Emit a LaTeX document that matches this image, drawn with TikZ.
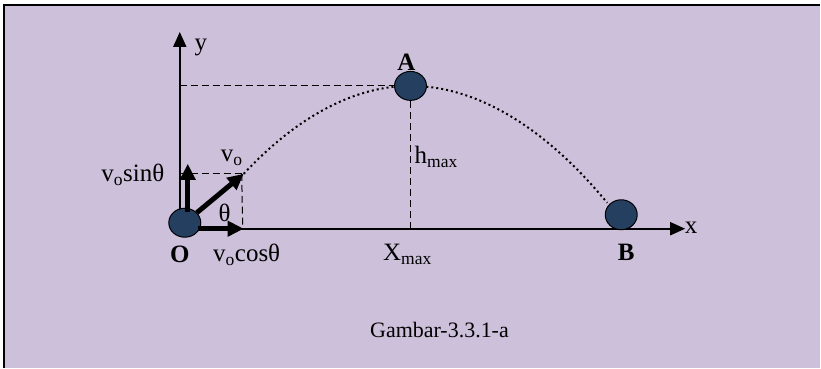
\documentclass[tikz,border=0pt]{standalone}
\usepackage{fontspec}
\setmainfont{Liberation Serif}
\usepackage{xcolor}
\definecolor{lilac}{RGB}{205,192,218}
\definecolor{ballblue}{RGB}{36,63,96}
\usetikzlibrary{arrows.meta,positioning,shapes.geometric}

\begin{document}
\begin{tikzpicture}[x=1pt,y=-1pt]

    \tikzset{
      ball/.style={
        ellipse,
        draw,
        fill=ballblue,
        line width=1pt,
        minimum width=32pt,
        minimum height=29pt,
        inner sep=0pt,
      },
      lbl/.style={font=\fontsize{25}{29}\selectfont, inner sep=0pt},
      axis/.style={line width=2pt, -{Triangle[length=15pt,width=13pt]}},
      vec/.style={line width=5pt, -{Triangle[length=16pt,width=15pt]}},
      guide/.style={line width=1pt, dash pattern=on 7pt off 4pt},
      track/.style={line width=2pt, dash pattern=on 2pt off 3pt},
    }
    % frame
    \fill[white] (0,0) rectangle (821,368);
    \fill[lilac] (4,5) rectangle (821,368);
    \draw[line width=2pt] (821,5) -- (4,5) -- (4,368);

	\coordinate (origin) at (180,229);
	\coordinate (ytip) at (180,32);
	\coordinate (xtip) at (686,229);
	\coordinate (ytop) at (180,86);
	\coordinate (xmax) at (411,229);
	\coordinate (vtip) at (244,174);
	\coordinate (vy) at (180,174);
	\coordinate (vx) at (243,229);
	\coordinate (land) at (608,203);
	\coordinate (hstart) at (198,229);
	\coordinate (hend) at (244,229);
	\coordinate (ustart) at (188,212);
	\coordinate (uend) at (188,164);

	\draw[axis] (origin) -- (ytip);
	\draw[axis] (origin) -- (xtip);
	\draw[guide] (ytop) -- (396,86);
	\draw[guide] (xmax) -- (411,100);
	\draw[guide] (vy) -- (vtip);
	\draw[guide] (242,174) -- (vx);
	\draw[track] (vtip) parabola bend (411,86) (land);

	\node[ball] (O) at (185,223) {};
	\node[ball] (A) at (411,86) {};
	\node[ball, minimum height=30pt] (B) at (622,215) {};

	\draw[vec] (O) -- (vtip);
	\draw[vec] (hstart) -- (hend);
	\draw[vec] (ustart) -- (uend);

	\node[lbl] (ylab) at (201,48) {y};
	\node[lbl] (xlab) at (692,228) {x};
	\node[lbl, font=\fontsize{25}{29}\selectfont\bfseries] (Alab) at (407,62) {A};
	\node[lbl, font=\fontsize{25}{29}\selectfont\bfseries] (Olab) at (180,255) {O};
	\node[lbl, font=\fontsize{25}{29}\selectfont\bfseries] (Blab) at (627,253) {B};
	\node[lbl] (thlab) at (225,213) {θ};
	\node[lbl] (vlab) at (232,158) {v\textsubscript{o}};
	\node[lbl] (vsin) at (133,175) {v\textsubscript{o}sinθ};
	\node[lbl] (vcos) at (247,255) {v\textsubscript{o}cosθ};
	\node[lbl] (xmlab) at (408,255) {X\textsubscript{max}};
	\node[lbl, anchor=west] (hmlab) at (415,157) {h\textsubscript{max}};
	\node[lbl, font=\fontsize{22}{26}\selectfont] (caption) at (440,330) {Gambar-3.3.1-a};

\end{tikzpicture}
\end{document}
